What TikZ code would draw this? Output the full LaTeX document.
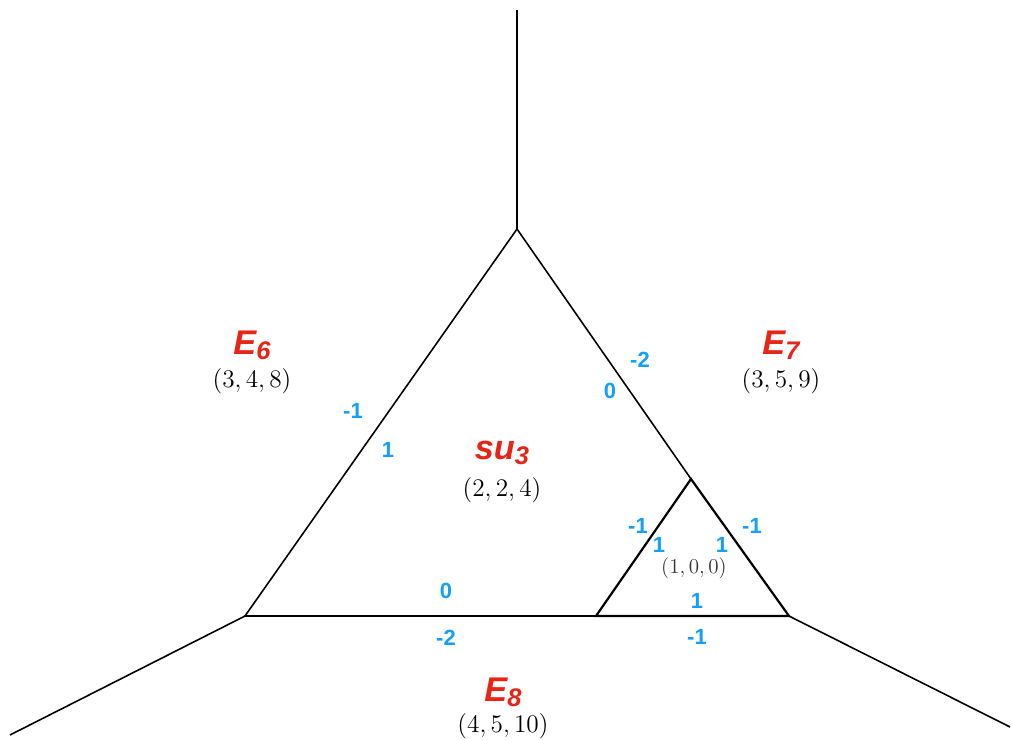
\documentclass[tikz,border=0pt]{standalone}
\usepackage{fontspec}
\newfontfamily\labelfont{Liberation Sans}
\usetikzlibrary{positioning}

\definecolor{groupred}{RGB}{232,36,22}
\definecolor{chargeblue}{RGB}{18,160,250}

\tikzset{
  web/.style={line width=0.9pt},
  subweb/.style={line width=1.25pt},
  groupname/.style={text=groupred, inner sep=0pt, font=\labelfont\bfseries\itshape\fontsize{19.5}{21}\selectfont},
  triple/.style={inner sep=0pt, font=\fontsize{13.8}{15}\selectfont},
  charge/.style={text=chargeblue, inner sep=0pt, font=\labelfont\bfseries\fontsize{12.5}{14}\selectfont}
}
\newcommand{\grp}[2]{#1\raisebox{-0.28ex}{\fontsize{14.5}{16}\selectfont #2}}

\begin{document}
\begin{tikzpicture}[x=0.02cm,y=-0.02cm]
  \useasboundingbox (0,0) rectangle (1012,740);

  % vertices of the web
  \coordinate (top) at (517,229);
  \coordinate (left) at (245,616);
  \coordinate (right) at (789,616);
  \coordinate (inner) at (691,479);
  \coordinate (base) at (596,616);
  % free ends of the legs
  \coordinate (upend) at (517,10);
  \coordinate (leftend) at (10,735);
  \coordinate (rightend) at (1010,727);

  \draw[web] (top) -- (upend);
  \draw[web] (left) -- (leftend);
  \draw[web] (right) -- (rightend);
  \draw[web] (top) -- (left) -- (base);
  \draw[web] (top) -- (inner);
  \draw[subweb] (inner) -- (base) -- (right) -- cycle;

  % faces
  \node[groupname] (e6) at (252,345) {\grp{E}{6}};
  \node[triple] (e6t) at (252,381) {$(3,4,8)$};
  \node[groupname] (e7) at (781,345) {\grp{E}{7}};
  \node[triple] (e7t) at (781,381) {$(3,5,9)$};
  \node[groupname] (su3) at (502,453) {\grp{su}{3}};
  \node[triple] (su3t) at (502,490) {$(2,2,4)$};
  \node[groupname] (e8) at (503,692) {\grp{E}{8}};
  \node[triple] (e8t) at (503,726) {$(4,5,10)$};
  \node[triple, text=black!80, font=\fontsize{12}{13}\selectfont] (uone) at (694,568) {$(1,0,0)$};

  % charges
  \node[charge] (c1) at (353,411) {-1};
  \node[charge] (c2) at (388,450) {1};
  \node[charge] (c3) at (640,360) {-2};
  \node[charge] (c4) at (610,391) {0};
  \node[charge] (c5) at (446,591) {0};
  \node[charge] (c6) at (446,638) {-2};
  \node[charge] (c7) at (638,526) {-1};
  \node[charge] (c8) at (659,545) {1};
  \node[charge] (c9) at (722,545) {1};
  \node[charge] (c10) at (752,526) {-1};
  \node[charge] (c11) at (697,601) {1};
  \node[charge] (c12) at (697,637) {-1};
\end{tikzpicture}
\end{document}
